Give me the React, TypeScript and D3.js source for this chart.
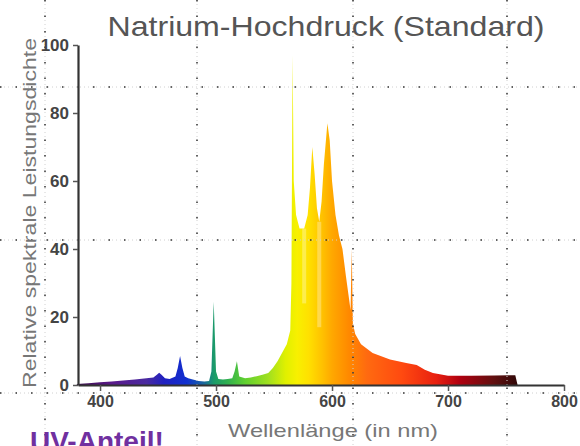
import React, { useEffect, useRef } from "react";
import * as d3 from "d3";

// spectrum of a high-pressure sodium lamp
const wavelengths = [
  380, 390, 400, 410, 420, 430, 440, 446, 449, 451, 453, 456, 460, 465, 467, 469, 471, 473, 476, 480,
  485, 490, 494, 496, 498, 500, 502, 506, 510, 514, 516, 518, 520, 525, 530, 535, 540, 545, 549, 553,
  557, 561, 564, 565, 566, 567, 569, 572, 576, 579, 581, 583, 585, 587, 589, 591, 593, 596, 598, 600,
  603, 606, 609, 612, 614, 616, 617, 618, 620, 625, 635, 650, 664, 673, 680, 687, 700, 720, 740, 758,
  760,
];
const intensity = [
  0.3, 0.5, 0.8, 1, 1.3, 1.6, 2, 2.2, 3, 3.6, 3, 2, 1.8, 2.5, 5, 8.5, 5, 2.5, 2, 1.6,
  1.2, 1, 1.2, 4, 24.5, 4, 1.8, 1.6, 1.8, 2, 4, 7, 2.5, 2, 2.2, 2.6, 3, 3.5, 5, 7,
  9.5, 12, 16, 30, 97, 60, 50, 46, 46, 50, 58, 70, 62, 52, 48, 54, 65, 77, 72, 60,
  50, 44, 40, 32, 27, 22, 40, 18, 15, 12, 9.4, 7.5, 6.5, 5.9, 4.5, 3.5, 2.7, 2.7, 2.8, 2.9,
  0,
];

// lighter self-absorption streaks inside the sodium lines: wavelength and lowest value
const streakWavelengths = [576, 589];
const streakBottoms = [24, 17];

const xTicks = [400, 500, 600, 700, 800];
const yTicks = [0, 20, 40, 60, 80, 100];

// colour of the light at each wavelength
const colorStops = [
  [380, "#3a0a4a"], [410, "#5a1a8a"], [440, "#4a2aa0"], [455, "#2020c0"], [475, "#1030d0"],
  [490, "#1a6a9a"], [498, "#1a9a6a"], [510, "#30b050"], [525, "#60d030"], [545, "#a0e020"],
  [560, "#e0f000"], [570, "#f8f000"], [580, "#ffe000"], [592, "#ffc000"], [600, "#ffa800"],
  [615, "#ff8800"], [630, "#ff6a10"], [660, "#ff4a10"], [690, "#e82010"], [710, "#b00010"],
  [740, "#601010"], [760, "#300808"],
] as [number, string][];

const W = 580, H = 446;
const gridX = [45, 197, 353, 507];
const gridY = [87, 240, 393];
const font = "Liberation Sans, Arial, sans-serif";

export default function App() {
  const svgRef = useRef<SVGSVGElement>(null);

  const x = d3.scaleLinear().domain([381, 800]).range([78, 564]);
  const y = d3.scaleLinear().domain([0, 100]).range([385, 45]);

  const data = wavelengths.map((w, i) => ({ w, v: intensity[i] }));
  const area = d3.area<{ w: number; v: number }>()
    .x(d => x(d.w))
    .y0(y(0))
    .y1(d => y(d.v));
  const top = d3.scaleLinear().domain(wavelengths).range(intensity);

  useEffect(() => {
    const svg = d3.select(svgRef.current);
    svg.selectAll(".axis").remove();

    const yAxis = svg.append("g").attr("class", "axis")
      .attr("transform", `translate(${x(381)},0)`)
      .call(d3.axisLeft(y).tickValues(yTicks).tickSize(5).tickSizeOuter(0).tickPadding(4));
    const xAxis = svg.append("g").attr("class", "axis")
      .attr("transform", `translate(0,${y(0)})`)
      .call(d3.axisBottom(x).tickValues(xTicks).tickSize(6).tickSizeOuter(0).tickPadding(5));

    [yAxis, xAxis].forEach(g => {
      g.select(".domain").attr("stroke", "#333").attr("stroke-width", 2.2);
      g.selectAll(".tick line").attr("stroke", "#555").attr("stroke-width", 1.5);
      g.selectAll(".tick text")
        .attr("fill", "#444")
        .attr("font-family", font)
        .attr("font-weight", "bold");
    });
    yAxis.selectAll(".tick text").attr("font-size", 17);
    xAxis.selectAll(".tick text").attr("font-size", 16);
  }, []);

  const dotted = (key: string, x1: number, y1: number, x2: number, y2: number) => (
    <g key={key}>
      <line x1={x1} y1={y1} x2={x2} y2={y2} stroke="#d0d0d0" strokeWidth={1} strokeDasharray="1 3" />
      <line x1={x1} y1={y1} x2={x2} y2={y2} stroke="#333" strokeWidth={1.5} strokeDasharray="1.5 14" />
    </g>
  );

  return (
    <svg ref={svgRef} width={W} height={H}
      style={{ position: "absolute", left: 0, top: 0, background: "#fff" }}>
      <defs>
        <linearGradient id="spec" gradientUnits="userSpaceOnUse" x1={x(380)} x2={x(760)} y1={0} y2={0}>
          {colorStops.map(([w, c]) => (
            <stop key={w} offset={(w - 380) / 380} stopColor={c} />
          ))}
        </linearGradient>
      </defs>

      <path d={area(data) ?? ""} fill="url(#spec)" />
      {streakWavelengths.map((w, i) => (
        <line key={w} x1={x(w)} x2={x(w)} y1={y(top(w))} y2={y(streakBottoms[i])}
          stroke="#fff" strokeOpacity={0.3} strokeWidth={4} />
      ))}

      {gridX.map(gx => dotted("v" + gx, gx, 0, gx, H))}
      {gridY.map(gy => dotted("h" + gy, 0, gy, W, gy))}

      <text x={326} y={36} textAnchor="middle" fontFamily={font}
        fontSize={28} fill="#555" textLength={437}
        lengthAdjust="spacingAndGlyphs">Natrium-Hochdruck (Standard)</text>

      <text transform="translate(36,213) rotate(-90)" textAnchor="middle"
        fontFamily={font} fontSize={19} fill="#777"
        textLength={350} lengthAdjust="spacingAndGlyphs">Relative spektrale Leistungsdichte</text>

      <text x={333} y={437} textAnchor="middle" fontFamily={font}
        fontSize={19} fill="#777" textLength={210}
        lengthAdjust="spacingAndGlyphs">Wellenlänge (in nm)</text>

      <text x={30} y={451} fontFamily={font} fontWeight="bold"
        fontSize={28} fill="#7030A0">UV-Anteil!</text>
    </svg>
  );
}
